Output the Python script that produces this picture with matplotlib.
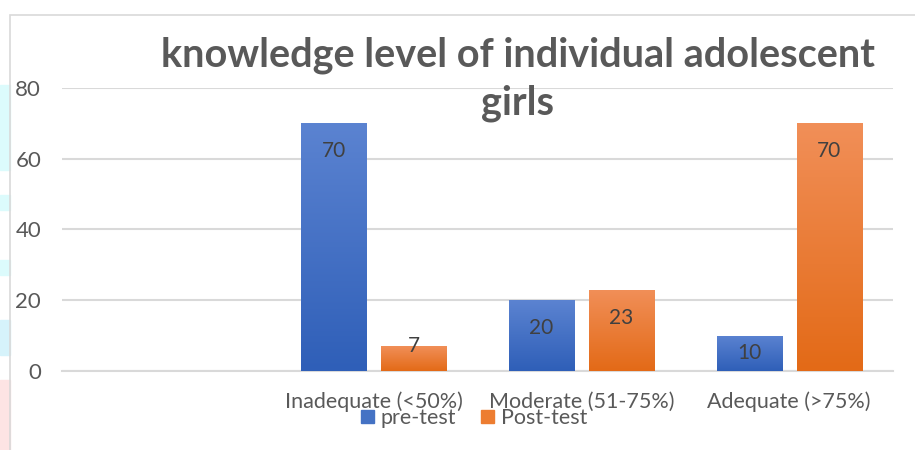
import matplotlib
matplotlib.use("Agg")
import matplotlib.pyplot as plt
import numpy as np
from matplotlib.patches import Rectangle, Patch

categories = ["", "Inadequate (<50%)", "Moderate (51-75%)", "Adequate (>75%)"]
pre_test = [0, 70, 20, 10]
post_test = [0, 7, 23, 70]
yticks = [0, 20, 40, 60, 80]
title = "knowledge level of individual adolescent\ngirls"

plt.rcParams["font.family"] = ["Lato", "DejaVu Sans"]

W, H = 915, 450
fig = plt.figure(figsize=(W / 100, H / 100), dpi=100)

# faint coloured strips on the left edge (cropped screenshot artefacts)
for y0, y1, col in [(85, 170, "#dcfbfc"), (195, 210, "#dcfbfc"), (260, 275, "#dcfbfc"),
                    (320, 355, "#d6f3fb"), (380, 450, "#fde4e4")]:
    fig.patches.append(Rectangle((0, 1 - y1 / H), 10 / W, (y1 - y0) / H,
                                 transform=fig.transFigure, color=col, zorder=0))
# chart frame
fig.patches.append(Rectangle((10 / W, -0.1), 1.0, 1 - 15 / H + 0.1, transform=fig.transFigure,
                             fill=False, edgecolor="#d9d9d9", linewidth=1.2, zorder=1))

ax = fig.add_axes([62 / W, (H - 371) / H, (893 - 62) / W, (371 - 88) / H])
x = np.arange(len(categories))
w = 0.313
off = 0.1925

b1 = ax.bar(x - off, pre_test, w, color="#4472c4", zorder=3)
b2 = ax.bar(x + off, post_test, w, color="#ed7d31", zorder=3)

ax.set_xlim(-0.5, len(categories) - 0.5)
ax.set_ylim(0, 80)
ax.set_yticks(yticks)
ax.set_xticks(x)
ax.set_xticklabels(categories)
ax.tick_params(axis="both", length=0, colors="#595959", labelsize=15.5)
ax.tick_params(axis="y", labelsize=16, pad=15)
ax.tick_params(axis="x", pad=15)
ax.grid(axis="y", color="#d9d9d9", linewidth=1.5, zorder=0)
for s in ["top", "right", "left"]:
    ax.spines[s].set_visible(False)
ax.spines["bottom"].set_color("#d9d9d9")
ax.spines["bottom"].set_linewidth(1.5)

# gradient fill on bars
grads = {"pre": ("#5b83d1", "#2f5fb8"), "post": ("#f18f58", "#e36a17")}
for bars, key in [(b1, "pre"), (b2, "post")]:
    top_c, bot_c = [np.array(matplotlib.colors.to_rgb(c)) for c in grads[key]]
    grad = np.linspace(0, 1, 100)[:, None, None]
    img = top_c * (1 - grad) + bot_c * grad
    for bar in bars:
        h = bar.get_height()
        if h <= 0:
            continue
        bx = bar.get_x()
        im = ax.imshow(img, extent=[bx, bx + bar.get_width(), 0, h], aspect="auto",
                       zorder=3.5, origin="upper")
        im.set_clip_path(bar)

px_per_unit = (371 - 88) / 80
for bars in (b1, b2):
    for bar in bars:
        h = bar.get_height()
        if h <= 0:
            continue
        hp = h * px_per_unit
        if hp > 56:
            d = 28
        elif hp >= 30:
            d = hp / 2
        else:
            d = 0
        ax.annotate(f"{h:g}", (bar.get_x() + bar.get_width() / 2, h),
                    xytext=(0, -d * 0.72), textcoords="offset points",
                    ha="center", va="center", fontsize=15, color="#404040", zorder=5)

fig.text(518 / W, 1 - 67 / H, title.split("\n")[0], ha="center", va="baseline", fontsize=28.5,
         fontweight="bold", color="#595959")
fig.text(518 / W, 1 - 114 / H, title.split("\n")[1], ha="center", va="baseline", fontsize=28.5,
         fontweight="bold", color="#595959")

handles = [Patch(color="#4472c4"), Patch(color="#ed7d31")]
fig.legend(handles, ["pre-test", "Post-test"], loc="center", bbox_to_anchor=(474 / W, 1 - 418 / H),
           ncol=2, frameon=False, fontsize=15.5, labelcolor="#595959", handlelength=0.6,
           handleheight=0.6, handletextpad=0.3, columnspacing=1.2)

fig.savefig("out.png", dpi=100)
